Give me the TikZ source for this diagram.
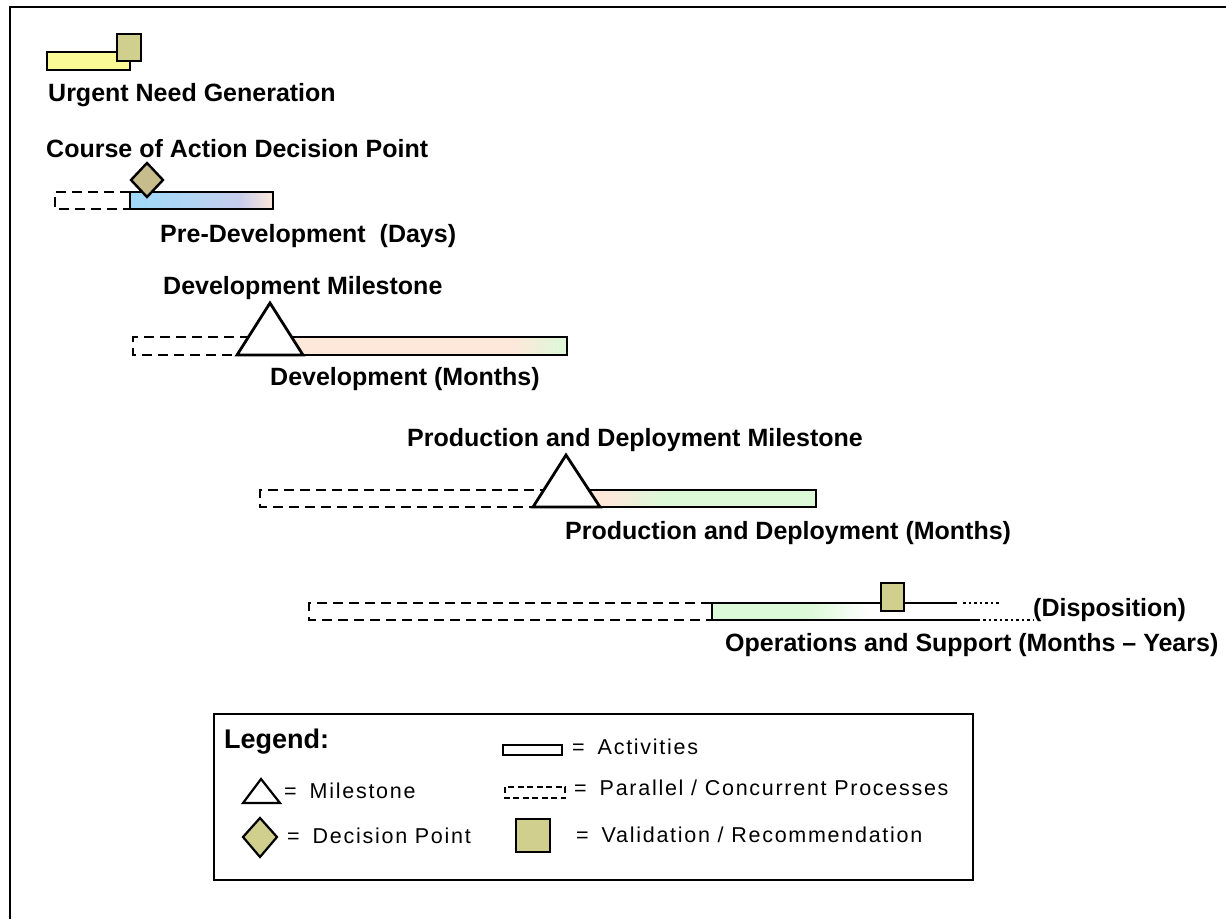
\documentclass[tikz,border=0pt]{standalone}
\usepackage{fontspec}
\setmainfont{Liberation Sans}
\newfontfamily\legendfont[LetterSpace=8]{Liberation Sans}

\definecolor{needyellow}{HTML}{FAFA96}
\definecolor{khaki}{HTML}{D0CF8E}
\definecolor{tanstone}{HTML}{C6BC8C}
\definecolor{skyL}{HTML}{A0D8F8}
\definecolor{skyM}{HTML}{B0D6F4}
\definecolor{lavender}{HTML}{C6CCEC}
\definecolor{peach}{HTML}{FDE8DA}
\definecolor{mint}{HTML}{DCF9D8}

% colour runs along the bars (the 25bp..75bp band is fitted to the bar)
\pgfdeclarehorizontalshading{predevshade}{100bp}{color(0bp)=(skyL); color(25bp)=(skyL); color(45bp)=(skyM); color(63bp)=(lavender); color(75bp)=(peach); color(100bp)=(peach)}
\pgfdeclarehorizontalshading{devshade}{100bp}{color(0bp)=(peach); color(25bp)=(peach); color(66bp)=(peach); color(75bp)=(mint); color(100bp)=(mint)}
\pgfdeclarehorizontalshading{prodshade}{100bp}{color(0bp)=(peach); color(25bp)=(peach); color(34bp)=(peach); color(44bp)=(mint); color(75bp)=(mint); color(100bp)=(mint)}
\pgfdeclarehorizontalshading{opsshade}{100bp}{color(0bp)=(mint); color(25bp)=(mint); color(45bp)=(mint); color(57bp)=(white); color(75bp)=(white); color(100bp)=(white)}

\begin{document}
\begin{tikzpicture}[x=1pt,y=-1pt,
  bar/.style={draw=black,line width=2.8pt},
  parallel/.style={draw=black,line width=2.8pt,dash pattern=on 10pt off 6pt},
  mile/.style={draw=black,line width=2.8pt,fill=white,line join=miter},
  lbl/.style={anchor=base west,inner sep=0pt,font=\fontsize{25}{30}\selectfont\bfseries},
  leg/.style={anchor=base west,inner sep=0pt,font=\legendfont\fontsize{21.5}{25}\selectfont}]
\useasboundingbox (0,0) rectangle (1226,919);

% page frame (left and top edges)
\draw[line width=2.8pt] (10,919) -- (10,7) -- (1226,7);

% urgent need generation
\draw[bar,line width=2.4pt,fill=needyellow] (47,52) rectangle (130,70);
\draw[bar,line width=2.4pt,fill=khaki] (117,34) rectangle (141,61);
\node[lbl] (urgent) at (48,101) {Urgent Need Generation};

% pre-development
\node[lbl] (coa) at (46,157) {Course of Action Decision Point};
\draw[parallel] (130,192) -- (55,192) -- (55,209) -- (130,209);
\shade[shading=predevshade] (130,192) rectangle (273,209);
\draw[bar] (130,192) rectangle (273,209);
\draw[draw=black,line width=2.4pt,fill=tanstone] (147,163) -- (163,180) -- (147,197) -- (131,180) -- cycle;
\node[lbl] (predev) at (160,242) {Pre-Development\ \ (Days)};

% development
\node[lbl] (devms) at (163,294) {Development Milestone};
\draw[parallel] (250,337) -- (133,337) -- (133,355) -- (250,355);
\shade[shading=devshade] (270,337) rectangle (567,355);
\draw[bar] (270,337) rectangle (567,355);
\draw[mile] (237,355) -- (270,303) -- (303,355) -- cycle;
\node[lbl] (dev) at (270,385) {Development (Months)};

% production and deployment
\node[lbl] (prodms) at (407,446) {Production and Deployment Milestone};
\draw[parallel] (550,490) -- (260,490) -- (260,507) -- (550,507);
\shade[shading=prodshade] (566,490) rectangle (816,507);
\draw[bar] (566,490) rectangle (816,507);
\draw[mile] (533,507) -- (566,455) -- (600,507) -- cycle;
\node[lbl] (prod) at (565,539) {Production and Deployment (Months)};

% operations and support
\draw[parallel] (711,603) -- (309,603) -- (309,620) -- (711,620);
\shade[shading=opsshade] (712,603) rectangle (957,620);
\draw[bar] (957,603) -- (712,603) -- (712,620) -- (980,620);
\draw[line width=2.8pt,dash pattern=on 2.5pt off 3pt] (963,603) -- (1000,603);
\draw[line width=2.8pt,dash pattern=on 2.5pt off 3pt] (983,620) -- (1033,620);
\draw[bar,line width=2.4pt,fill=khaki] (881,583) rectangle (904,611);
\node[lbl] (dispo) at (1033,616) {(Disposition)};
\node[lbl] (ops) at (725,651) {Operations and Support (Months – Years)};

% legend
\draw[line width=2.8pt] (214,714) rectangle (973,880);
\node[lbl,font=\fontsize{27}{32}\selectfont\bfseries] (legtitle) at (224,748) {Legend:};
\draw[line width=2.2pt] (503,745) rectangle (562,755);
\node[leg] (legact) at (572,754) {=\hspace{13pt}Activities};
\draw[line width=2.2pt,fill=white] (243,803) -- (261,779) -- (280,803) -- cycle;
\node[leg] (legms) at (284,798) {=\hspace{13pt}Milestone};
\draw[line width=2.2pt,dash pattern=on 6pt off 3.5pt] (505,787) rectangle (565,798);
\node[leg] (legpar) at (574,795) {=\hspace{13pt}Parallel / Concurrent Processes};
\draw[line width=2.2pt,fill=khaki] (260,818) -- (277,837) -- (260,857) -- (243,837) -- cycle;
\node[leg] (legdec) at (287,843) {=\hspace{13pt}Decision Point};
\draw[line width=2.2pt,fill=khaki] (516,819) rectangle (550,852);
\node[leg] (legval) at (576,842) {=\hspace{13pt}Validation / Recommendation};
\end{tikzpicture}
\end{document}
